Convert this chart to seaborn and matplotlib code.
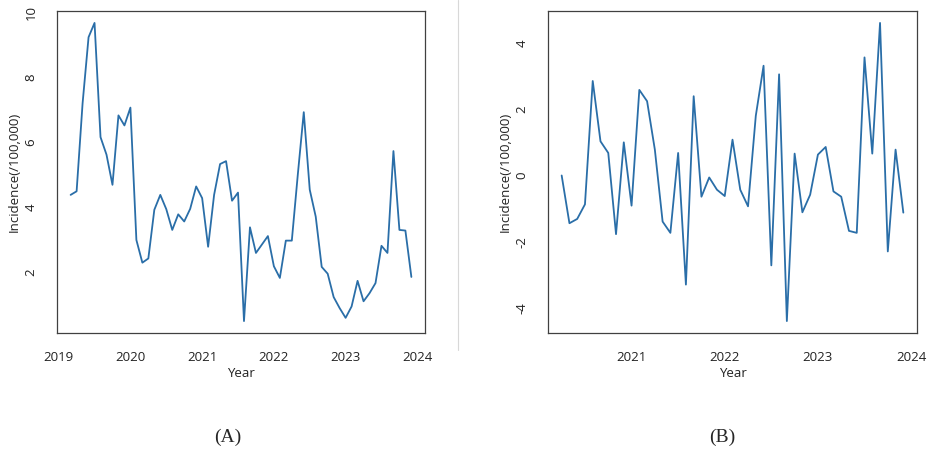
import numpy as np
import matplotlib
matplotlib.use("Agg")
import matplotlib.pyplot as plt
import seaborn as sns

# Monthly incidence (/100,000), Mar 2019 - Dec 2023
incidence = [4.38, 4.49, 7.2, 9.24, 9.68, 6.16, 5.62, 4.69, 6.83, 6.52,
             7.07, 2.99, 2.29, 2.42, 3.92, 4.38, 3.94, 3.30, 3.78, 3.56,
             3.95, 4.64, 4.28, 2.78, 4.38, 5.33, 5.42, 4.20, 4.45, 0.49,
             3.38, 2.59, 2.85, 3.11, 2.18, 1.82, 2.97, 2.97, 5.0, 6.93,
             4.54, 3.71, 2.16, 1.95, 1.23, 0.89, 0.59, 0.94, 1.73, 1.10,
             1.35, 1.66, 2.81, 2.59, 5.73, 3.30, 3.28, 1.85]
incidence_start = (2019, 3)

# Differenced series, Apr 2020 - Dec 2023
diffed = [0.0, -1.44, -1.31, -0.87, 2.85, 1.03, 0.68, -1.77, 1.0, -0.91,
          2.58, 2.24, 0.78, -1.39, -1.73, 0.68, -3.29, 2.39, -0.64, -0.06,
          -0.43, -0.62, 1.08, -0.43, -0.93, 1.8, 3.31, -2.71, 3.05, -4.39,
          0.66, -1.11, -0.58, 0.63, 0.86, -0.48, -0.64, -1.67, -1.73, 3.56,
          0.66, 4.6, -2.29, 0.78, -1.12]
diffed_start = (2020, 4)

left_yticks = [2, 4, 6, 8, 10]
left_xticks = [2019, 2020, 2021, 2022, 2023, 2024]
right_yticks = [-4, -2, 0, 2, 4]
right_xticks = [2021, 2022, 2023, 2024]

LINE_COLOR = "#2a6ea8"
AXIS_COLOR = "#404040"
TEXT_COLOR = "#222222"


def monthly_time(start, n):
    year, month = start
    return year + (month - 1) / 12 + np.arange(n) / 12


def r_limits(values):
    # R-style 4% padding around the data range
    lo, hi = min(values), max(values)
    pad = (hi - lo) * 0.04
    return lo - pad, hi + pad


def draw_panel(ax, values, start, xticks, yticks):
    t = monthly_time(start, len(values))
    sns.lineplot(x=t, y=values, ax=ax, color=LINE_COLOR, linewidth=1.3)
    ax.set_xlim(*r_limits(t))
    ax.set_ylim(*r_limits(values))
    ax.set_xticks(xticks)
    ax.set_yticks(yticks)
    ax.set_xticklabels([str(v) for v in xticks])
    ax.set_yticklabels([str(v) for v in yticks], rotation=90, va="center")
    ax.set_xlabel("Year", fontsize=9.5, labelpad=2, color=TEXT_COLOR)
    ax.set_ylabel("Incidence(/100,000)", fontsize=9.5, labelpad=3, color=TEXT_COLOR)
    ax.tick_params(axis="both", direction="out", length=6, width=0.9,
                   color=AXIS_COLOR, labelsize=9.5, labelcolor=TEXT_COLOR)
    ax.tick_params(axis="x", pad=7)
    ax.tick_params(axis="y", pad=8)
    for spine in ax.spines.values():
        spine.set_visible(True)
        spine.set_color(AXIS_COLOR)
        spine.set_linewidth(0.9)
    ax.grid(False)


sns.set_theme(style="white")
plt.rcParams["font.family"] = ["Open Sans", "DejaVu Sans"]

fig = plt.figure(figsize=(9.35, 4.53), dpi=100)
fig.patch.set_facecolor("white")

ax_a = fig.add_axes([57 / 935, 1 - 333 / 453, 368 / 935, 322 / 453])
ax_b = fig.add_axes([548 / 935, 1 - 333 / 453, 369 / 935, 322 / 453])

draw_panel(ax_a, incidence, incidence_start, left_xticks, left_yticks)
draw_panel(ax_b, diffed, diffed_start, right_xticks, right_yticks)

# thin divider between the two panels
fig.add_artist(plt.Line2D([458 / 935, 458 / 935], [1 - 350 / 453, 1.0],
                          color="#d8d8d8", linewidth=0.8))

fig.text(228 / 935, 1 - 437 / 453, "(A)", ha="center", va="center",
         fontsize=14, family=["Liberation Serif", "DejaVu Serif"])
fig.text(722 / 935, 1 - 437 / 453, "(B)", ha="center", va="center",
         fontsize=14, family=["Liberation Serif", "DejaVu Serif"])

fig.savefig("out.png", dpi=100)
